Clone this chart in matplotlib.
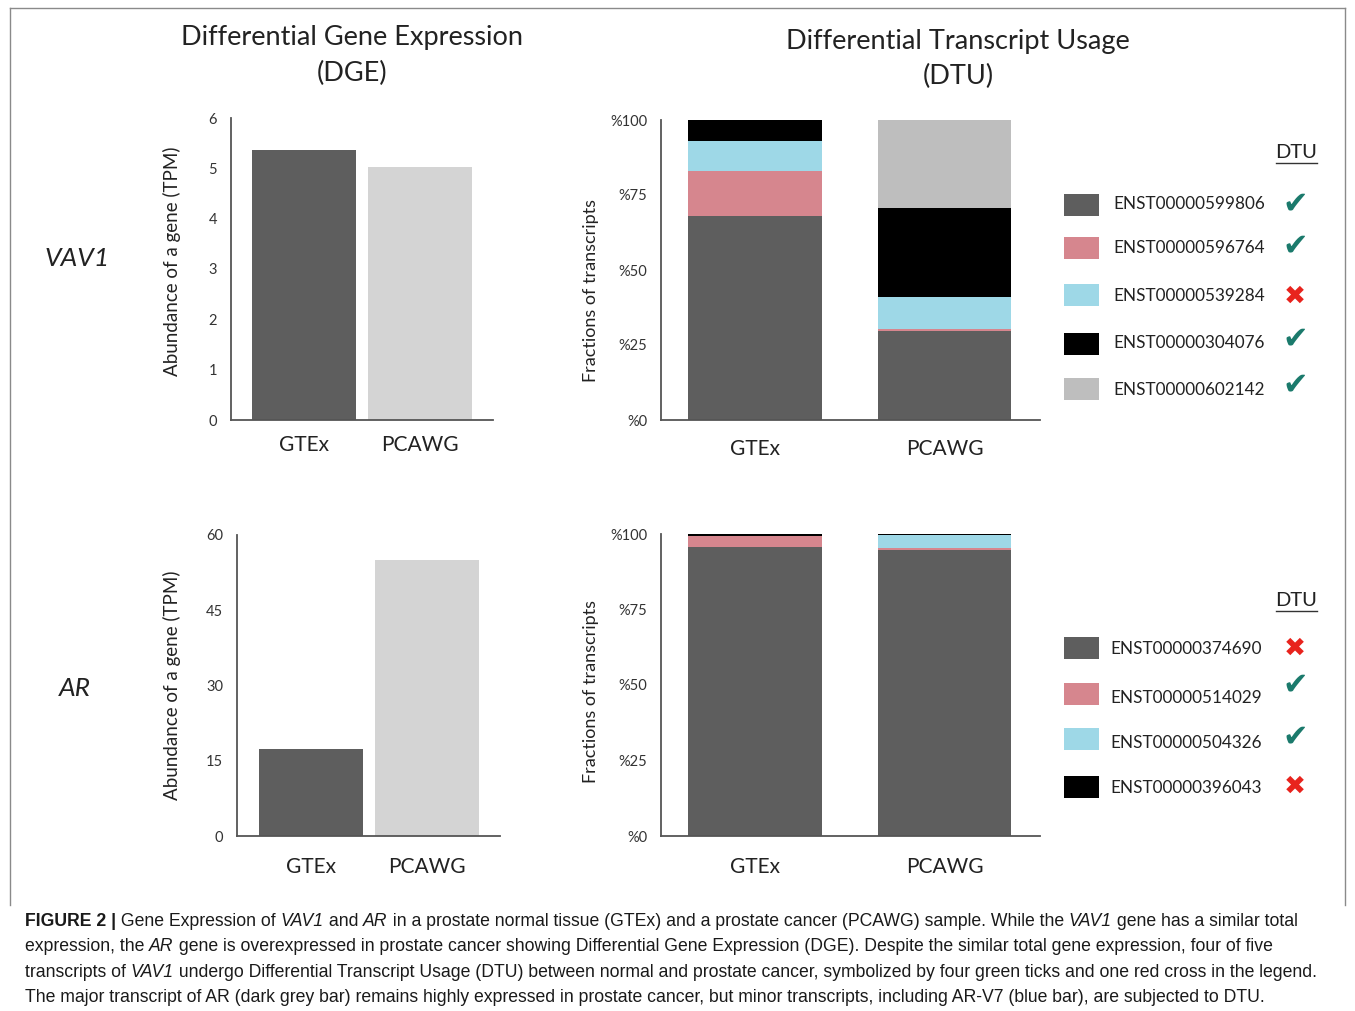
import matplotlib
matplotlib.use("Agg")
import matplotlib.pyplot as plt
from matplotlib.patches import Rectangle
from matplotlib.lines import Line2D
from matplotlib import font_manager

# ---- data ----
samples = ["GTEx", "PCAWG"]
vav1_tpm = [5.36, 5.03]
ar_tpm = [17.3, 55.0]

vav1_ids = ["ENST00000599806", "ENST00000596764", "ENST00000539284",
            "ENST00000304076", "ENST00000602142"]
vav1_gtex = [68.1, 14.9, 10.0, 7.0, 0.0]
vav1_pcawg = [29.7, 0.6, 10.8, 29.7, 29.2]
vav1_dtu = [True, True, False, True, True]

ar_ids = ["ENST00000374690", "ENST00000514029", "ENST00000504326",
          "ENST00000396043"]
ar_gtex = [95.8, 3.6, 0.1, 0.5]
ar_pcawg = [94.7, 0.6, 4.4, 0.3]
ar_dtu = [False, True, True, False]

pct_ticks = [0, 25, 50, 75, 100]
pct_labels = ["%0", "%25", "%50", "%75", "%100"]

# ---- style ----
DARK = "#5e5e5e"
LIGHT_DGE = "#d4d4d4"
tx_colors = ["#5e5e5e", "#d6868e", "#9ed8e7", "#000000", "#bebebe"]
SPINE = "#555555"
TXT = "#222222"
TICK_C = "#1b7a6c"
CROSS_C = "#e8231d"

W, H = 1355, 1011
plt.rcParams['font.family'] = ['Lato', 'DejaVu Sans']
fig = plt.figure(figsize=(W / 100, H / 100), dpi=100)


def fx(x):
    return x / W


def fy(y):
    return 1 - y / H


def px_axes(l, t, r, b):
    return fig.add_axes([fx(l), fy(b), (r - l) / W, (b - t) / H])


def base_style(ax, xpad):
    for s in ["top", "right"]:
        ax.spines[s].set_visible(False)
    for s in ["left", "bottom"]:
        ax.spines[s].set_color(SPINE)
        ax.spines[s].set_linewidth(1.3)
    ax.tick_params(axis="y", length=0, pad=10, labelsize=10.5, labelcolor="#333333")
    ax.tick_params(axis="x", length=0, pad=xpad, labelsize=15, labelcolor=TXT)
    ax.set_xticks(range(len(samples)))
    ax.set_xticklabels(samples)


def dge_plot(ax, vals, ymax, step, xlim, xpad, lab_x, lab_y):
    ax.bar(range(len(samples)), vals, width=0.9, color=[DARK, LIGHT_DGE])
    ax.set_xlim(*xlim)
    ax.set_ylim(0, ymax)
    ax.set_yticks(range(0, ymax + 1, step))
    base_style(ax, xpad)
    ax.set_ylabel("Abundance of a gene (TPM)", fontsize=13.5, color=TXT)
    ax.yaxis.set_label_coords(lab_x, lab_y)


def dtu_plot(ax, fracs, xpad, lab_y):
    bottoms = [0.0] * len(samples)
    for k in range(len(fracs[0])):
        seg = [f[k] for f in fracs]
        ax.bar(range(len(samples)), seg, bottom=bottoms, width=0.707,
               color=tx_colors[k])
        bottoms = [b + s for b, s in zip(bottoms, seg)]
    ax.set_xlim(-0.496, 1.504)
    ax.set_ylim(0, 100)
    ax.set_yticks(pct_ticks)
    ax.set_yticklabels(pct_labels)
    base_style(ax, xpad)
    ax.set_ylabel("Fractions of transcripts", fontsize=13, color=TXT)
    ax.yaxis.set_label_coords(-0.164, lab_y)


ax1 = px_axes(231, 118, 493, 420)
dge_plot(ax1, vav1_tpm, 6, 1, (-0.632, 1.636), 11, -0.19, 0.525)
ax2 = px_axes(661, 120, 1040, 420)
dtu_plot(ax2, [vav1_gtex, vav1_pcawg], 14, 0.433)
ax3 = px_axes(237, 535, 500, 836)
dge_plot(ax3, ar_tpm, 60, 15, (-0.64, 1.636), 15, -0.213, 0.5)
ax4 = px_axes(661, 534, 1040, 836)
dtu_plot(ax4, [ar_gtex, ar_pcawg], 15, 0.48)

# ---- titles and row labels ----
fig.text(fx(352), fy(38), "Differential Gene Expression", fontsize=19.5,
         ha="center", va="center", color=TXT)
fig.text(fx(352), fy(73), "(DGE)", fontsize=19.5, ha="center", va="center", color=TXT)
fig.text(fx(958), fy(41), "Differential Transcript Usage", fontsize=19.5,
         ha="center", va="center", color=TXT)
fig.text(fx(958), fy(76), "(DTU)", fontsize=19.5, ha="center", va="center", color=TXT)
fig.text(fx(77), fy(259), "VAV1", fontsize=19, style="italic",
         ha="center", va="center", color=TXT)
fig.text(fx(75), fy(688), "AR", fontsize=19, style="italic",
         ha="center", va="center", color=TXT)


# ---- custom legends ----
def legend_block(ids, dtu, head_y, patch_ys, label_ys, mark_ys, label_x):
    fig.text(fx(1296), fy(head_y), "DTU", fontsize=14.5, ha="center",
             va="center", color=TXT)
    fig.add_artist(Line2D([fx(1276), fx(1317)], [fy(head_y + 10)] * 2,
                          color="#333333", lw=1.0))
    for k, tid in enumerate(ids):
        py = patch_ys[k]
        fig.add_artist(Rectangle((fx(1064), fy(py + 11)), 35 / W, 22 / H,
                                 facecolor=tx_colors[k], edgecolor="none",
                                 transform=fig.transFigure))
        fig.text(fx(label_x), fy(label_ys[k]), tid, fontsize=12.3,
                 ha="left", va="center", color=TXT)
        if dtu[k]:
            fig.text(fx(1295), fy(mark_ys[k]), "\u2714", fontsize=22,
                     family="DejaVu Sans", color=TICK_C,
                     ha="center", va="center")
        else:
            fig.text(fx(1295), fy(mark_ys[k]), "\u2716", fontsize=19,
                     family="DejaVu Sans", color=CROSS_C,
                     ha="center", va="center")


legend_block(vav1_ids, vav1_dtu, 153, [205, 248, 295, 344, 389],
             [204, 248, 296, 343, 390], [204, 246, 297, 339, 385], 1113)
legend_block(ar_ids, ar_dtu, 601, [648, 694, 739, 787],
             [649, 698, 743, 788], [649, 685, 737, 787], 1110)

# ---- frame ----
fr = "#8a8a8a"
fig.add_artist(Line2D([fx(10), fx(1345)], [fy(8), fy(8)], color=fr, lw=1))
fig.add_artist(Line2D([fx(10), fx(10)], [fy(8), fy(905)], color=fr, lw=1))
fig.add_artist(Line2D([fx(1345), fx(1345)], [fy(8), fy(905)], color=fr, lw=1))

# ---- caption ----
names = {f.name for f in font_manager.fontManager.ttflist}
cap_family = "Liberation Sans Narrow" if "Liberation Sans Narrow" in names else "Liberation Sans"

caption = [
    [("FIGURE 2 |", "b"), (" Gene Expression of ", "n"), ("VAV1", "i"), (" and ", "n"),
     ("AR", "i"), (" in a prostate normal tissue (GTEx) and a prostate cancer (PCAWG) sample. While the ", "n"),
     ("VAV1", "i"), (" gene has a similar total", "n")],
    [("expression, the ", "n"), ("AR", "i"),
     (" gene is overexpressed in prostate cancer showing Differential Gene Expression (DGE). Despite the similar total gene expression, four of five", "n")],
    [("transcripts of ", "n"), ("VAV1", "i"),
     (" undergo Differential Transcript Usage (DTU) between normal and prostate cancer, symbolized by four green ticks and one red cross in the legend.", "n")],
    [("The major transcript of AR (dark grey bar) remains highly expressed in prostate cancer, but minor transcripts, including AR-V7 (blue bar), are subjected to DTU.", "n")],
]
cap_y = [926, 951, 977, 1002]
renderer = fig.canvas.get_renderer()


def seg_props(st, size):
    return dict(fontsize=size, family=cap_family,
                fontweight="bold" if st == "b" else "normal",
                fontstyle="italic" if st == "i" else "normal")


def measure(s, props):
    t = fig.text(0, 0, "|" + s + "|", **props)
    w1 = t.get_window_extent(renderer).width
    t.set_text("||")
    w2 = t.get_window_extent(renderer).width
    t.remove()
    return w1 - w2


base = 12.0
w3 = sum(measure(s, seg_props(st, base)) for s, st in caption[2])
cap_size = base * 1297 / w3

for segs, y in zip(caption, cap_y):
    x = 25.0
    for s, st in segs:
        p = seg_props(st, cap_size)
        fig.text(fx(x), fy(y), s, ha="left", va="baseline", color="#1a1a1a", **p)
        x += measure(s, p)

fig.savefig("out.png", dpi=100)
